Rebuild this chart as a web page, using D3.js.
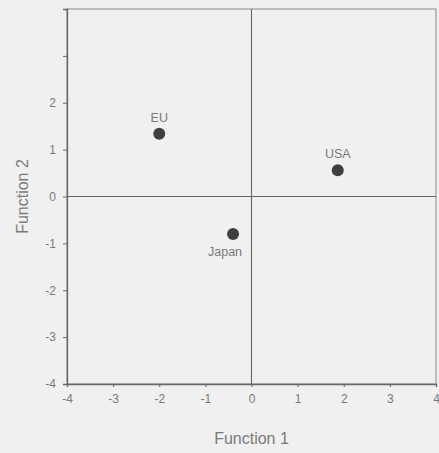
<!DOCTYPE html>
<html><head><meta charset="utf-8">
<script src="https://cdn.jsdelivr.net/npm/d3@7"></script>
<style>
html,body{margin:0;padding:0;background:#f0f0f0;}
text{font-family:Arial,"Liberation Sans",sans-serif;}
</style></head>
<body><svg id="c" width="439" height="453"></svg>
<script>
const labels = ["EU", "USA", "Japan"];
const func1 = [-2.0, 1.87, -0.4];
const func2 = [1.34, 0.56, -0.8];
const xTicks = [-4, -3, -2, -1, 0, 1, 2, 3, 4];
const xTickLabels = ["-4", "-3", "-2", "-1", "0", "1", "2", "3", "4"];
const yTicks = [-4, -3, -2, -1, 0, 1, 2, 3];
const yTickLabels = ["-4", "-3", "-2", "-1", "0", "1", "2", ""];

const svg = d3.select("#c");
const L = 67, R = 436, T = 9, B = 384;
const x = d3.scaleLinear().domain([-4, 4]).range([L, R]);
const y = d3.scaleLinear().domain([-4, 4]).range([B, T]);
const axisCol = "#666", textCol = "#7a7a7a";

// frame
svg.append("rect").attr("x", L).attr("y", T).attr("width", R - L).attr("height", B - T)
  .attr("fill", "none").attr("stroke", "#999").attr("stroke-width", 1.2);

// axes
const xa = svg.append("g").attr("transform", `translate(0,${B})`)
  .call(d3.axisBottom(x).tickValues(xTicks).tickFormat((d, i) => xTickLabels[i]).tickSize(3).tickPadding(7));
const ya = svg.append("g").attr("transform", `translate(${L},0)`)
  .call(d3.axisLeft(y).tickValues(yTicks).tickFormat((d, i) => yTickLabels[i]).tickSize(4).tickPadding(7));
[xa, ya].forEach(g => {
  g.select(".domain").attr("stroke", axisCol).attr("stroke-width", 1.3);
  g.selectAll(".tick line").attr("stroke", axisCol);
  g.selectAll(".tick text").attr("fill", textCol).attr("font-size", 12);
});

// reference lines
svg.append("line").attr("x1", x(0)).attr("x2", x(0)).attr("y1", T).attr("y2", B)
  .attr("stroke", "#666").attr("stroke-width", 1.1);
svg.append("line").attr("x1", L).attr("x2", R).attr("y1", y(0)).attr("y2", y(0))
  .attr("stroke", "#666").attr("stroke-width", 1.1);

// points
const data = labels.map((l, i) => ({l, a: func1[i], b: func2[i]}));
svg.selectAll("circle.pt").data(data).enter().append("circle")
  .attr("cx", d => x(d.a)).attr("cy", d => y(d.b)).attr("r", 6).attr("fill", "#3f3f3f");
svg.selectAll("text.lb").data(data).enter().append("text")
  .attr("x", d => x(d.a) + (d.l === "Japan" ? -8 : 0))
  .attr("y", d => d.l === "Japan" ? y(d.b) + 22 : y(d.b) - 12)
  .attr("text-anchor", "middle").attr("font-size", 12.5).attr("fill", textCol).text(d => d.l);

// titles
svg.append("text").attr("x", x(0)).attr("y", 444).attr("text-anchor", "middle")
  .attr("font-size", 16).attr("fill", textCol).text("Function 1");
svg.append("text").attr("transform", `translate(28,${y(0)}) rotate(-90)`).attr("text-anchor", "middle")
  .attr("font-size", 16).attr("fill", textCol).text("Function 2");
</script></body></html>
